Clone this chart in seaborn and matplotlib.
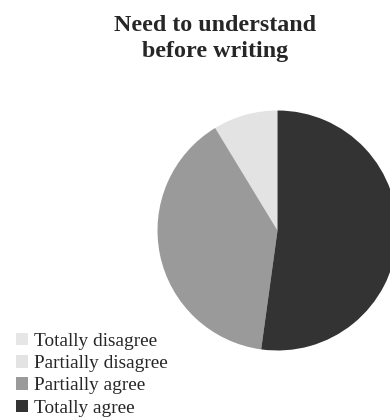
import matplotlib
matplotlib.use("Agg")
import matplotlib.pyplot as plt
import seaborn as sns

categories = ["Totally disagree", "Partially disagree", "Partially agree", "Totally agree"]
counts = [0, 2, 9, 12]
colors = ["#e6e6e6", "#e3e3e3", "#9a9a9a", "#333333"]
title = "Need to understand\nbefore writing"

sns.set_theme(style="white")
plt.rcParams["font.family"] = ["Liberation Serif", "DejaVu Serif"]

W, H = 390, 419
fig = plt.figure(figsize=(W / 100, H / 100), dpi=100)
cx, cy, r = 277.5, 230.5, 120
ax = fig.add_axes([(cx - r) / W, (H - cy - r) / H, 2 * r / W, 2 * r / H])
pal = sns.color_palette(colors)
wedges, _ = ax.pie(counts, colors=pal, startangle=90, counterclock=True,
                   radius=1, wedgeprops=dict(linewidth=0))
ax.set_xlim(-1, 1)
ax.set_ylim(-1, 1)
ax.set_aspect("equal")
ax.axis("off")

fig.text(215 / W, 1 - 15 / H, title, ha="center", va="top",
         fontsize=17.3, fontweight="bold", linespacing=1.3)

leg = fig.legend(wedges, categories, loc="upper left",
                 bbox_to_anchor=(16 / W, 1 - 333 / H), frameon=False,
                 fontsize=13.9, handlelength=0.6, handleheight=0.6,
                 handletextpad=0.35, labelspacing=0.27, borderpad=0,
                 borderaxespad=0)

fig.savefig("out.png", dpi=100, facecolor="white")
